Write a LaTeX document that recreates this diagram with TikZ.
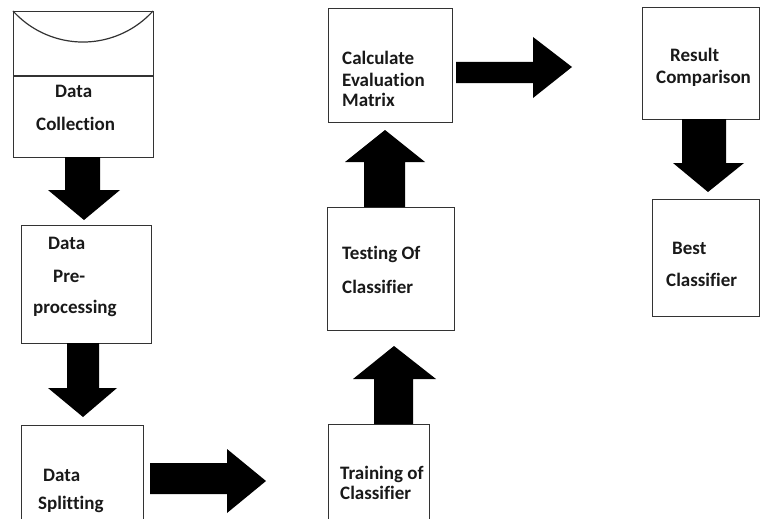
\documentclass[tikz,border=0pt]{standalone}
\usepackage{fontspec}
\setmainfont{Carlito}[Ligatures=NoCommon]
\begin{document}
\begin{tikzpicture}[x=1pt,y=-1pt,
  box/.style={draw=black!80, line width=1.2pt, inner sep=0pt, anchor=north west},
  lbl/.style={anchor=base west, inner sep=0pt, font=\fontsize{19}{21}\selectfont\bfseries, text=black!90},
  blk/.style={fill=black, draw=none}]
\useasboundingbox (0,0) rectangle (760,519);
\clip (0,0) rectangle (760,519);
% boxes
\node[box, minimum width=140pt, minimum height=146pt] (coll) at (13,11) {};
\node[box, minimum width=130pt, minimum height=118pt] (pre) at (21,225) {};
\node[box, minimum width=122pt, minimum height=120pt] (split) at (21,425) {};
\node[box, minimum width=101pt, minimum height=120pt] (train) at (328,424) {};
\node[box, minimum width=127pt, minimum height=123pt] (test) at (327,207) {};
\node[box, minimum width=124pt, minimum height=114pt] (calc) at (328,8) {};
\node[box, minimum width=117pt, minimum height=112pt] (res) at (642,7) {};
\node[box, minimum width=107pt, minimum height=117pt] (best) at (652,199) {};
% data collection decoration
\draw[draw=black!80, line width=1.2pt] (coll.west |- 0,76) -- (coll.east |- 0,76);
\draw[draw=black!80, line width=1.2pt] (coll.north west) arc[start angle=137.8, end angle=42.2, radius=94.5];
% labels
\node[lbl] (t1a) at (55,97) {Data};
\node[lbl] (t1b) at (36,130) {Collection};
\node[lbl] (t2a) at (48,249) {Data};
\node[lbl] (t2b) at (53,282) {Pre-};
\node[lbl] (t2c) at (33,313) {processing};
\node[lbl] (t3a) at (43,481) {Data};
\node[lbl] (t3b) at (38,509) {Splitting};
\node[lbl] (t4a) at (340,479) {Training of};
\node[lbl] (t4b) at (340,499) {Classifier};
\node[lbl] (t5a) at (342,259) {Testing Of};
\node[lbl] (t5b) at (342,293) {Classifier};
\node[lbl] (t6a) at (342,64) {Calculate};
\node[lbl] (t6b) at (342,86) {Evaluation};
\node[lbl] (t6c) at (342,106) {Matrix};
\node[lbl] (t7a) at (670,62) {Result};
\node[lbl] (t7b) at (656,83) {Comparison};
\node[lbl] (t8a) at (672,254) {Best};
\node[lbl] (t8b) at (666,286) {Classifier};
% block arrows
\fill[blk] (65,157) -- (65,190) -- (48,190) -- (84,220) -- (120,190) -- (100,190) -- (100,157) -- cycle;
\fill[blk] (67,343) -- (67,388) -- (48,388) -- (83,417) -- (117,388) -- (99,388) -- (99,343) -- cycle;
\fill[blk] (150,463) -- (227,463) -- (227,449) -- (266,481) -- (227,513) -- (227,494) -- (150,494) -- cycle;
\fill[blk] (374,424) -- (374,379) -- (353,379) -- (394,346) -- (436,379) -- (413,379) -- (413,424) -- cycle;
\fill[blk] (364,207) -- (364,162) -- (345,162) -- (385,130) -- (425,162) -- (405,162) -- (405,207) -- cycle;
\fill[blk] (456,62) -- (533,62) -- (533,37) -- (572,67) -- (533,98) -- (533,83) -- (456,83) -- cycle;
\fill[blk] (682,119) -- (682,163) -- (673,163) -- (708,192) -- (744,163) -- (726,163) -- (726,119) -- cycle;
\end{tikzpicture}
\end{document}
